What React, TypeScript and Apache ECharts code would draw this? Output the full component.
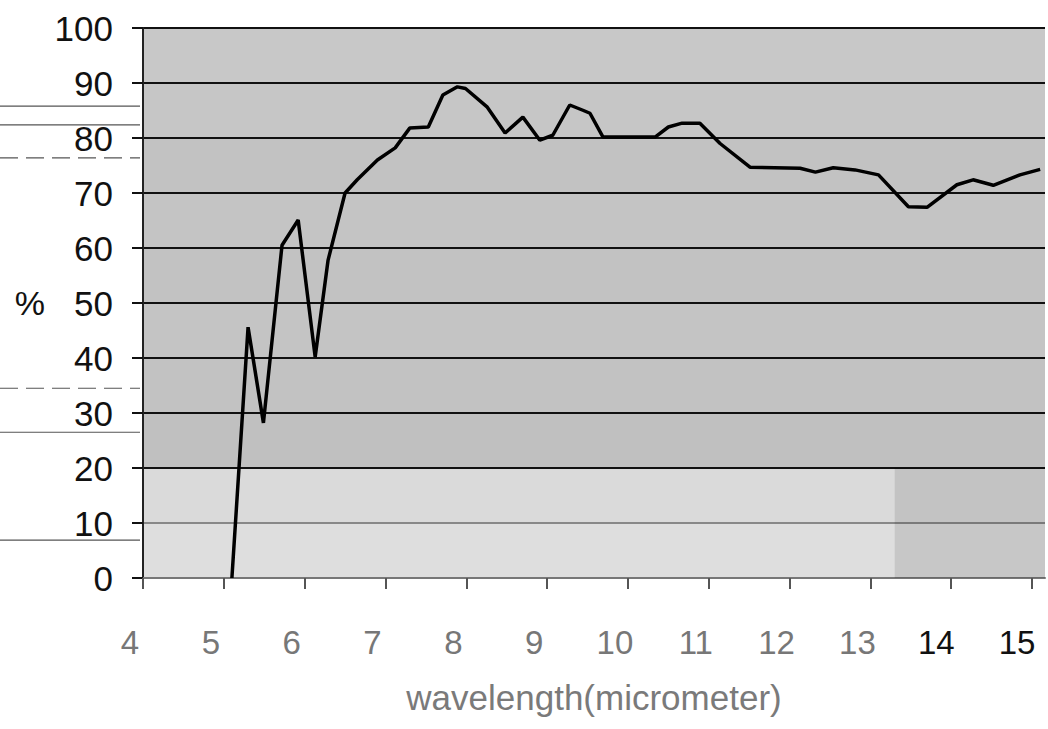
import React, { useEffect, useRef } from "react";
import * as echarts from "echarts";

const wavelength = [5.1, 5.3, 5.49, 5.72, 5.92, 6.13, 6.29, 6.5, 6.65, 6.9, 7.12, 7.3, 7.53, 7.71, 7.89, 7.99, 8.26, 8.48, 8.7, 8.91, 9.07, 9.28, 9.45, 9.53, 9.69, 10.03, 10.34, 10.5, 10.67, 10.89, 11.14, 11.51, 12.13, 12.32, 12.54, 12.81, 13.1, 13.47, 13.7, 14.07, 14.27, 14.52, 14.85, 15.1];
const percent = [0, 45.6, 28.2, 60.5, 65.1, 40.2, 57.8, 70, 72.4, 76, 78.2, 81.8, 82, 87.8, 89.3, 89, 85.6, 80.9, 83.8, 79.6, 80.5, 86, 85, 84.5, 80.2, 80.2, 80.2, 82, 82.7, 82.7, 79, 74.7, 74.5, 73.8, 74.6, 74.2, 73.3, 67.5, 67.4, 71.5, 72.4, 71.4, 73.3, 74.3];
const xTicks = [4, 5, 6, 7, 8, 9, 10, 11, 12, 13, 14, 15];
const bandColors = ["#dedede", "#dadada", "#c0c0c0", "#c2c2c2", "#c4c4c4", "#c2c2c2", "#c4c4c4", "#c2c2c2", "#c6c6c6", "#c8c8c8"];
const splitColors = ["#888", "#888", "#111", "#111", "#111", "#111", "#111", "#111", "#111", "#111", "#111"];
// stray scan lines in the left margin (y values)
const scanLines = [85.8, 82.4, 76.4, 34.5, 26.5, 6.9];
const scanDash = ["solid", "solid", "dashed", "dashed", "solid", "solid"];

export default function App() {
  const ref = useRef<HTMLDivElement>(null);
  useEffect(() => {
    if (!ref.current) return;
    const chart = echarts.init(ref.current, null, { renderer: "svg" });
    const font = "'Liberation Sans', Arial, sans-serif";
    chart.setOption({
      animation: false,
      backgroundColor: "#ffffff",
      grid: { left: 143, right: 3, top: 28, bottom: 151, containLabel: false },
      xAxis: {
        type: "value",
        min: 4,
        max: 15.16,
        interval: 1,
        name: "wavelength(micrometer)",
        nameLocation: "middle",
        nameGap: 102,
        nameTextStyle: { fontFamily: font, fontSize: 35, color: "#7a7a7a" },
        axisLine: { show: true, lineStyle: { color: "#777", width: 2 } },
        axisTick: { show: true, length: 11, lineStyle: { color: "#555", width: 2 }, customValues: xTicks },
        splitLine: { show: false },
        axisLabel: {
          customValues: xTicks,
          margin: 48,
          formatter: (v: number) => (v >= 14 ? `{k|${v}}` : `{g|${v}}`),
          rich: {
            g: { fontFamily: font, fontSize: 33, color: "#777", padding: [0, 26, 0, 0] },
            k: { fontFamily: font, fontSize: 33, color: "#111", padding: [0, 30, 0, 0] },
          },
        },
      },
      yAxis: {
        type: "value",
        min: 0,
        max: 100,
        interval: 10,
        name: "%",
        nameLocation: "middle",
        nameRotate: 0,
        nameGap: 98,
        nameTextStyle: { fontFamily: font, fontSize: 34, color: "#111" },
        axisLine: { show: true, lineStyle: { color: "#222", width: 2 } },
        axisTick: { show: true, length: 11, lineStyle: { color: "#111", width: 2 } },
        axisLabel: { margin: 30, fontFamily: font, fontSize: 35, color: "#111" },
        splitLine: { show: true, lineStyle: { color: splitColors, width: 2 } },
        splitArea: { show: true, areaStyle: { color: bandColors } },
      },
      series: [
        {
          type: "line",
          data: wavelength.map((w, i) => [w, percent[i]]),
          showSymbol: false,
          symbol: "none",
          lineStyle: { color: "#000", width: 3.5 },
          clip: true,
          z: 5,
          markArea: {
            silent: true,
            itemStyle: { color: "rgba(0,0,0,0.1)" },
            data: [[{ xAxis: 13.3, yAxis: 0 }, { xAxis: 15.16, yAxis: 20 }]],
          },
        },
      ],
    });
    const lines = scanLines.map((v, i) => {
      const y = chart.convertToPixel({ yAxisIndex: 0 }, v) as number;
      return {
        type: "line",
        silent: true,
        shape: { x1: 0, y1: y, x2: 140, y2: y },
        style: { stroke: "#555", lineWidth: 1.2, lineDash: scanDash[i] === "dashed" ? [18, 8] : null },
      };
    });
    chart.setOption({ graphic: lines });
    return () => chart.dispose();
  }, []);
  return <div ref={ref} style={{ position: "fixed", left: 0, top: 0, width: 1048, height: 729 }} />;
}
